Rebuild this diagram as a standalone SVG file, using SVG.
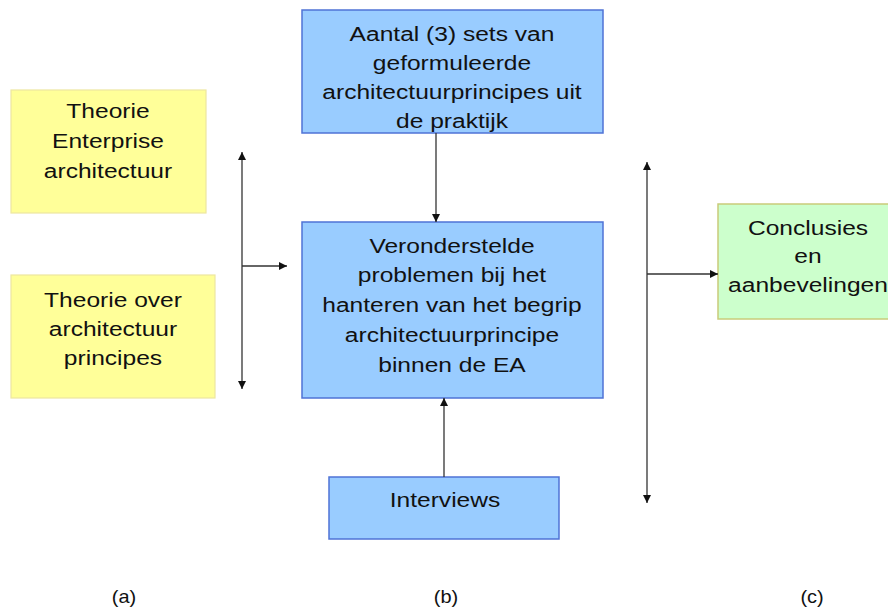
<svg xmlns="http://www.w3.org/2000/svg" width="888" height="607" viewBox="0 0 888 607">
  <style>
    .yellow { fill: #FFFF99; stroke: #EDE7A0; stroke-width: 1.2; }
    .blue { fill: #99CCFF; stroke: #4F73D6; stroke-width: 1.5; }
    .green { fill: #CCFFCC; stroke: #C9CC7A; stroke-width: 1.5; }
    .lbl { font-family: "Liberation Sans", Arial, sans-serif; font-size: 21px; fill: #111; text-anchor: middle; }
    .cap { font-family: "Liberation Sans", Arial, sans-serif; font-size: 19px; fill: #111; text-anchor: middle; }
    .conn { stroke: #333; stroke-width: 1.3; fill: none; }
  </style>
  <defs>
    <marker id="arrow" viewBox="0 0 10 10" refX="10" refY="5" markerWidth="8" markerHeight="8" markerUnits="userSpaceOnUse" orient="auto-start-reverse">
      <path d="M0,0 L10,5 L0,10 Z" fill="#111"/>
    </marker>
  </defs>
  <rect width="888" height="607" fill="#ffffff"/>

  <!-- theory inputs -->
  <g id="theorie-ea">
    <rect class="yellow" x="11" y="90" width="195" height="123"/>
    <g transform="translate(108,0) scale(1.17,1)">
      <text class="lbl" x="0" y="118">Theorie</text>
      <text class="lbl" x="0" y="148">Enterprise</text>
      <text class="lbl" x="0" y="178">architectuur</text>
    </g>
  </g>
  <g id="theorie-principes">
    <rect class="yellow" x="11" y="275" width="204" height="123"/>
    <g transform="translate(113,0) scale(1.17,1)">
      <text class="lbl" x="0" y="307">Theorie over</text>
      <text class="lbl" x="0" y="336">architectuur</text>
      <text class="lbl" x="0" y="365">principes</text>
    </g>
  </g>

  <!-- central column -->
  <g id="sets-praktijk">
    <rect class="blue" x="302" y="10" width="301" height="123"/>
    <g transform="translate(452,0) scale(1.17,1)">
      <text class="lbl" x="0" y="41">Aantal (3) sets van</text>
      <text class="lbl" x="0" y="70">geformuleerde</text>
      <text class="lbl" x="0" y="99">architectuurprincipes uit</text>
      <text class="lbl" x="0" y="128">de praktijk</text>
    </g>
  </g>
  <g id="problemen">
    <rect class="blue" x="302" y="222" width="301" height="176"/>
    <g transform="translate(452,0) scale(1.17,1)">
      <text class="lbl" x="0" y="253">Veronderstelde</text>
      <text class="lbl" x="0" y="282">problemen bij het</text>
      <text class="lbl" x="0" y="312">hanteren van het begrip</text>
      <text class="lbl" x="0" y="342">architectuurprincipe</text>
      <text class="lbl" x="0" y="372">binnen de EA</text>
    </g>
  </g>
  <g id="interviews">
    <rect class="blue" x="329" y="477" width="230" height="62"/>
    <g transform="translate(445,0) scale(1.17,1)">
      <text class="lbl" x="0" y="507">Interviews</text>
    </g>
  </g>

  <!-- outcome -->
  <g id="conclusies">
    <rect class="green" x="718" y="204" width="175" height="115"/>
    <g transform="translate(808,0) scale(1.17,1)">
      <text class="lbl" x="0" y="235">Conclusies</text>
      <text class="lbl" x="0" y="263">en</text>
      <text class="lbl" x="0" y="292">aanbevelingen</text>
    </g>
  </g>

  <!-- connectors -->
  <g id="connectors">
    <line class="conn" x1="242" y1="266" x2="242" y2="152" marker-end="url(#arrow)"/>
    <line class="conn" x1="242" y1="266" x2="242" y2="389" marker-end="url(#arrow)"/>
    <line class="conn" x1="242" y1="266" x2="287" y2="266" marker-end="url(#arrow)"/>
    <line class="conn" x1="436" y1="133" x2="436" y2="222" marker-end="url(#arrow)"/>
    <line class="conn" x1="444" y1="477" x2="444" y2="398" marker-end="url(#arrow)"/>
    <line class="conn" x1="647" y1="274" x2="647" y2="162" marker-end="url(#arrow)"/>
    <line class="conn" x1="647" y1="274" x2="647" y2="503" marker-end="url(#arrow)"/>
    <line class="conn" x1="647" y1="274" x2="718" y2="274" marker-end="url(#arrow)"/>
  </g>

  <!-- column captions -->
  <g id="captions">
    <g transform="translate(124,0) scale(1.05,1)"><text class="cap" x="0" y="603">(a)</text></g>
    <g transform="translate(446,0) scale(1.05,1)"><text class="cap" x="0" y="603">(b)</text></g>
    <g transform="translate(812,0) scale(1.05,1)"><text class="cap" x="0" y="603">(c)</text></g>
  </g>
</svg>
